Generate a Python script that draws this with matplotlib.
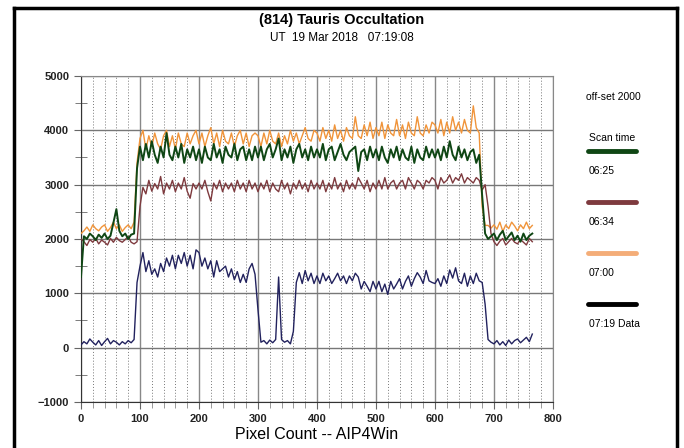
import matplotlib
matplotlib.use('Agg')
import matplotlib.pyplot as plt
from matplotlib.lines import Line2D
import numpy as np

plt.rcParams['font.family'] = ['Liberation Sans', 'DejaVu Sans']

# pixel index, sampled every 5 pixels (0 .. 765)
pixel = np.arange(0, 770, 5)

# 06:25 scan (off-set 2000)
scan_0625 = (
    [1300, 2050, 2000, 2100, 2050, 1980, 2080, 2020, 2100, 2000, 2060, 2300, 2550, 2150, 2050, 2100, 2000, 2080, 2100, 3300]
    + [3700, 3450, 3750, 3500, 3800, 3550, 3400, 3700, 3500, 3950, 3550, 3450, 3700, 3500, 3750, 3400, 3650, 3500, 3700, 3450]
    + [3650, 3400, 3700, 3500, 3450, 3750, 3500, 3650, 3400, 3700, 3550, 3500, 3750, 3450, 3650, 3700, 3450, 3650, 3450, 3700]
    + [3500, 3700, 3450, 3650, 3750, 3500, 3650, 3850, 3450, 3650, 3500, 3700, 3400, 3650, 3750, 3500, 3650, 3450, 3700, 3500]
    + [3650, 3500, 3750, 3450, 3650, 3700, 3450, 3600, 3750, 3550, 3450, 3600, 3650, 3700, 3250, 3600, 3650, 3450, 3700, 3500]
    + [3650, 3450, 3700, 3500, 3400, 3650, 3500, 3700, 3450, 3650, 3500, 3450, 3700, 3400, 3650, 3500, 3450, 3700, 3500, 3650]
    + [3500, 3650, 3450, 3700, 3500, 3800, 3550, 3450, 3700, 3500, 3650, 3450, 3600, 3650, 3400, 3550, 2800, 2100, 2000, 2050]
    + [2100, 1980, 2080, 2150, 1980, 2050, 2120, 1980, 2060, 1950, 2100, 1980, 2060, 2100]
)

# 06:34 scan (off-set 2000)
scan_0634 = (
    [2000, 1950, 1880, 1990, 1940, 2010, 1910, 1980, 1940, 1890, 2010, 1940, 2030, 1970, 1940, 1990, 2050, 1940, 1910, 1950]
    + [2600, 2950, 2830, 3080, 2880, 3020, 2920, 3150, 2830, 3030, 2920, 3080, 2870, 3030, 2920, 3130, 2880, 2750, 3020, 2920]
    + [3030, 2920, 3080, 2870, 2700, 3030, 2920, 3080, 2870, 3030, 2920, 3030, 2870, 3080, 2920, 3030, 2870, 3080, 2920, 3030]
    + [2870, 3030, 2920, 3080, 2870, 3030, 2920, 2870, 3080, 2920, 3030, 2830, 3030, 2920, 3080, 2920, 3030, 2870, 3080, 2920]
    + [3030, 2920, 3080, 2870, 3030, 2920, 3130, 2920, 3030, 2870, 3080, 2920, 3030, 2920, 3130, 3030, 2920, 3080, 2870, 3030]
    + [2920, 3080, 2920, 3130, 2920, 3030, 3080, 2920, 3030, 3080, 2920, 3130, 3030, 2920, 3080, 3030, 2920, 3080, 3030, 3130]
    + [3080, 2920, 3130, 3030, 3080, 3180, 3030, 3130, 3080, 3200, 3030, 3130, 3080, 3030, 3130, 3080, 2900, 3000, 2600, 2100]
    + [1950, 1880, 1960, 2010, 1890, 1950, 2010, 1940, 1910, 1990, 1940, 1890, 2010, 1950]
)

# 07:00 scan (off-set 2000)
scan_0700 = (
    [2100, 2150, 2220, 2140, 2260, 2190, 2150, 2220, 2260, 2140, 2210, 2310, 2190, 2260, 2140, 2210, 2260, 2190, 2310, 3400]
    + [3850, 4000, 3650, 3900, 3700, 3950, 3750, 3650, 3900, 4000, 3700, 3900, 3650, 3950, 3750, 3700, 3950, 3750, 3900, 4000]
    + [3750, 3950, 3700, 3900, 4050, 3750, 3950, 3700, 4000, 3800, 3750, 3950, 3700, 3900, 4000, 3750, 3950, 3700, 3900, 3950]
    + [3900, 3700, 3950, 3750, 4000, 3800, 3750, 3950, 3700, 3900, 3750, 4000, 3800, 3950, 3750, 3900, 4050, 3850, 3800, 4000]
    + [3950, 3800, 4050, 3850, 4000, 3800, 4100, 3850, 4000, 3800, 4050, 3900, 3850, 4250, 3900, 3850, 4100, 3900, 4150, 3850]
    + [4050, 3900, 4150, 3850, 4100, 3950, 3900, 4200, 3900, 4100, 3850, 4150, 3950, 3900, 4250, 3950, 3900, 4100, 3950, 4150]
    + [4100, 3950, 4200, 3900, 4150, 3950, 4250, 4000, 4150, 3950, 4200, 4000, 3950, 4450, 4050, 3950, 2600, 2250, 2250, 2200]
    + [2260, 2180, 2310, 2140, 2260, 2190, 2310, 2240, 2150, 2260, 2190, 2310, 2190, 2250]
)

# 07:19 data
scan_0719 = (
    [50, 110, 70, 160, 100, 50, 130, 40, 110, 170, 70, 130, 100, 50, 110, 70, 130, 90, 150, 1200]
    + [1500, 1750, 1400, 1600, 1350, 1450, 1300, 1550, 1400, 1650, 1500, 1700, 1450, 1700, 1550, 1750, 1500, 1700, 1450, 1800]
    + [1750, 1500, 1650, 1450, 1600, 1300, 1600, 1400, 1450, 1500, 1300, 1450, 1250, 1400, 1200, 1350, 1200, 1450, 1550, 1350]
    + [700, 100, 130, 70, 140, 90, 150, 1300, 150, 100, 130, 70, 300, 1200, 1380, 1180, 1420, 1230, 1370, 1180]
    + [1320, 1180, 1370, 1230, 1320, 1180, 1270, 1370, 1230, 1320, 1180, 1320, 1230, 1370, 1300, 1080, 1220, 1130, 1030, 1220]
    + [1080, 1220, 1030, 1170, 980, 1220, 1080, 1170, 1270, 1080, 1220, 1320, 1130, 1270, 1380, 1300, 1180, 1420, 1230, 1200]
    + [1180, 1270, 1130, 1320, 1180, 1430, 1280, 1470, 1230, 1180, 1370, 1130, 1320, 1180, 1370, 1230, 1200, 800, 150, 100]
    + [70, 130, 50, 110, 40, 140, 70, 130, 160, 90, 140, 190, 110, 250]
)

series = [
    (scan_0700, '#f0943a', 1.0),
    (scan_0634, '#7e3a3e', 1.0),
    (scan_0625, '#0f4614', 1.4),
    (scan_0719, '#22225e', 1.0),
]

legend_items = [
    ('06:25', '#0f4614'),
    ('06:34', '#7e3a3e'),
    ('07:00', '#f4ad78'),
    ('07:19 Data', '#000000'),
]

fig = plt.figure(figsize=(6.84, 4.48), dpi=100)
ax = fig.add_axes([0.1184, 0.1027, 0.69, 0.7277])

for vals, col, lw in series:
    ax.plot(pixel, vals, color=col, lw=lw, zorder=3)

ax.set_xlim(0, 800)
ax.set_ylim(-1000, 5000)
ax.set_xticks(np.arange(0, 801, 100))
ax.set_xticks(np.arange(0, 801, 20), minor=True)
ax.set_yticks(np.arange(-1000, 5001, 1000))
ax.set_yticks(np.arange(-500, 5000, 1000), minor=True)

ax.grid(which='minor', axis='x', color='#777777', lw=0.7, linestyle=(0, (1, 2)))
ax.grid(which='major', axis='x', color='#888888', lw=1.0)
ax.grid(which='major', axis='y', color='#777777', lw=1.0)

for lab in ax.get_xticklabels() + ax.get_yticklabels():
    lab.set_fontweight('bold')
ax.tick_params(axis='both', which='major', labelsize=8, colors='#222222')
ax.tick_params(axis='x', which='major', direction='out', length=5, color='#666666')
ax.tick_params(axis='x', which='minor', direction='out', length=4, color='#888888')
ax.tick_params(axis='y', which='major', direction='out', length=5, color='#666666')
ax.tick_params(axis='y', which='minor', direction='inout', length=9, color='#666666')

ax.spines['left'].set_color('#333333')
ax.spines['bottom'].set_color('#333333')
ax.spines['top'].set_color('#888888')
ax.spines['right'].set_color('#888888')

ax.set_xlabel('Pixel Count -- AIP4Win', fontsize=11.5, labelpad=2)

fig.text(0.5, 0.955, '(814) Tauris Occultation', ha='center', va='center',
         fontsize=10.5, fontweight='bold')
fig.text(0.5, 0.915, 'UT  19 Mar 2018   07:19:08', ha='center', va='center', fontsize=8.5)

# legend on the right, drawn by hand
fig.text(586 / 684, 1 - 97 / 448, 'off-set 2000', fontsize=7.5, va='center')
fig.text(589 / 684, 1 - 138 / 448, 'Scan time', fontsize=7.5, va='center')
y0 = 151
for label, col in legend_items:
    fig.add_artist(Line2D([588 / 684, 636 / 684], [1 - y0 / 448, 1 - y0 / 448],
                          color=col, lw=3.5, solid_capstyle='round'))
    fig.text(589 / 684, 1 - (y0 + 20) / 448, label, fontsize=7.5, va='center')
    y0 += 51

# black frame
for xs, ys in [([14, 14], [8, 448]), ([14, 677], [8, 8]), ([677, 677], [8, 448])]:
    fig.add_artist(Line2D([x / 684 for x in xs], [1 - y / 448 for y in ys],
                          color='black', lw=2.5))

fig.savefig('out.png', dpi=100)
